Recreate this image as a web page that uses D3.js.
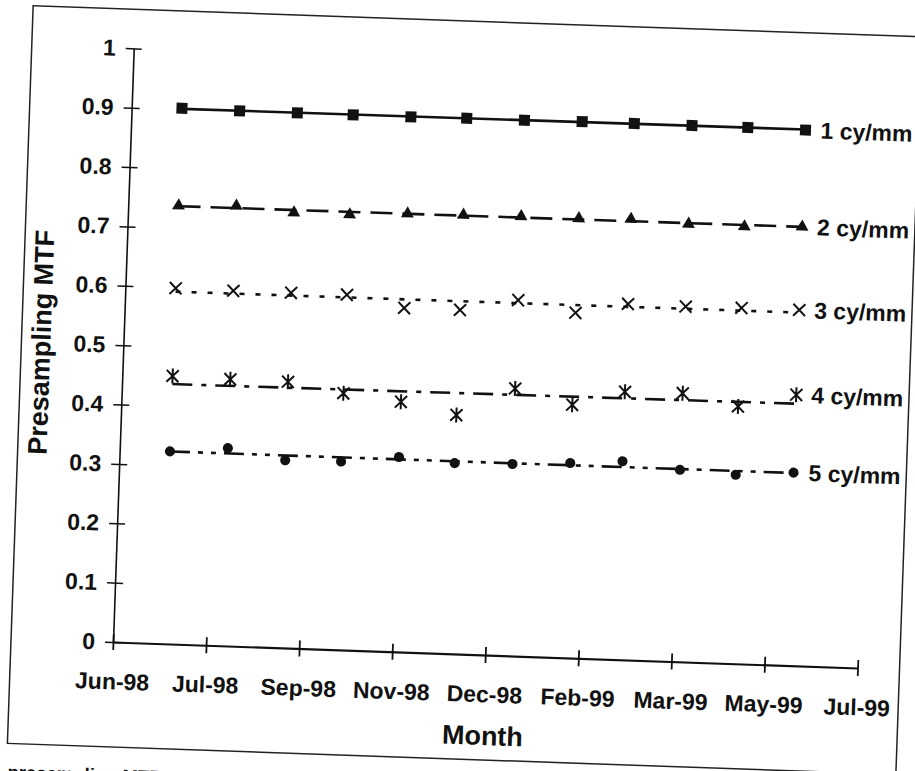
<!DOCTYPE html>
<html>
<head>
<meta charset="utf-8">
<script src="https://cdn.jsdelivr.net/npm/d3@7"></script>
<style>
  html, body { margin: 0; padding: 0; background: #fff; }
  svg { display: block; }
  .axis path, .axis line { stroke: #111; }
  .axis text, .series-label, .axis-title, .caption {
    font-family: "Liberation Sans", Arial, sans-serif;
    font-weight: bold;
    fill: #111;
  }
  .axis text { font-size: 23px; }
  .series-label { font-size: 23px; }
  .axis-title { font-size: 27px; }
  .caption { font-size: 18.5px; }
</style>
</head>
<body>
<svg id="chart" width="915" height="771"></svg>
<script>
// ---- data ----
const months = [
  "1998-07-01", "1998-08-01", "1998-09-01", "1998-10-01", "1998-11-01", "1998-12-01",
  "1999-01-01", "1999-02-01", "1999-03-01", "1999-04-01", "1999-05-01", "1999-06-01"
];
const mtf1 = [0.902, 0.901, 0.901, 0.901, 0.901, 0.902, 0.902, 0.903, 0.903, 0.903, 0.903, 0.902];
const mtf2 = [0.738, 0.741, 0.733, 0.733, 0.738, 0.739, 0.740, 0.740, 0.742, 0.737, 0.736, 0.739];
const mtf3 = [0.599, 0.598, 0.598, 0.598, 0.579, 0.579, 0.599, 0.581, 0.599, 0.598, 0.599, 0.599];
const mtf4 = [0.451, 0.449, 0.448, 0.432, 0.421, 0.402, 0.450, 0.426, 0.451, 0.452, 0.433, 0.456];
const mtf5 = [0.324, 0.333, 0.316, 0.317, 0.328, 0.321, 0.323, 0.328, 0.334, 0.323, 0.318, 0.325];
const seriesNames = ["1 cy/mm", "2 cy/mm", "3 cy/mm", "4 cy/mm", "5 cy/mm"];

const yTicks = [0, 0.1, 0.2, 0.3, 0.4, 0.5, 0.6, 0.7, 0.8, 0.9, 1];
const xTickDates = [
  "1998-06-04", "1998-07-24", "1998-09-12", "1998-11-01", "1998-12-21",
  "1999-02-09", "1999-03-31", "1999-05-20", "1999-07-09"
];

// ---- layout ----
const W = 745, H = 594;
const parse = d3.utcParse("%Y-%m-%d");
const dates = months.map(parse);

const svg = d3.select("#chart");
svg.append("rect").attr("width", 915).attr("height", 771).attr("fill", "#fff");

// the scanned page is tilted about 2 degrees
const g = svg.append("g").attr("transform", "rotate(2 113 642) translate(113 48)");

const x = d3.scaleUtc()
  .domain([parse(xTickDates[0]), parse(xTickDates[xTickDates.length - 1])])
  .range([0, W]);
const y = d3.scaleLinear().domain([0, 1]).range([H, 0]);

// outer frame
g.append("rect")
  .attr("x", -102).attr("y", -39)
  .attr("width", 889).attr("height", 738)
  .attr("fill", "none").attr("stroke", "#222").attr("stroke-width", 1.5);

// y axis
const yAxis = g.append("g").attr("class", "axis")
  .call(d3.axisLeft(y).tickValues(yTicks).tickFormat(d3.format("~g"))
    .tickSize(8).tickSizeOuter(0).tickPadding(10));
yAxis.select(".domain").attr("stroke-width", 1.6);
yAxis.selectAll(".tick line").attr("x1", 8).attr("stroke-width", 1.5);

// x axis
const xAxis = g.append("g").attr("class", "axis")
  .attr("transform", `translate(0,${H})`)
  .call(d3.axisBottom(x).tickValues(xTickDates.map(parse)).tickFormat(d3.utcFormat("%b-%y"))
    .tickSize(8).tickSizeOuter(0).tickPadding(23));
xAxis.select(".domain").attr("stroke-width", 2.2);
xAxis.selectAll(".tick line").attr("y1", -8).attr("stroke-width", 1.8);

// axis titles
g.append("text").attr("class", "axis-title")
  .attr("x", W / 2).attr("y", H + 90)
  .attr("text-anchor", "middle")
  .text("Month");

g.append("text").attr("class", "axis-title")
  .attr("transform", `translate(-73,${H / 2}) rotate(-90)`)
  .attr("text-anchor", "middle")
  .text("Presampling MTF");

// caption under the frame
g.append("text").attr("class", "caption")
  .attr("x", -101).attr("y", H + 140)
  .text("presampling MTF");

/* series: markers + linear trend line */
function linearFit(xs, ys) {
  const mx = d3.mean(xs), my = d3.mean(ys);
  let num = 0, den = 0;
  xs.forEach((v, i) => { num += (v - mx) * (ys[i] - my); den += (v - mx) * (v - mx); });
  const slope = num / den;
  return t => my + slope * (t - mx);
}

const xMark = "M-6,-6L6,6M6,-6L-6,6";
const starMark = "M-6,-6L6,6M6,-6L-6,6M0,-7.5L0,7.5";

const series = [
  { values: mtf1, dash: null, marker: d3.symbol(d3.symbolSquare, 121)(), filled: true },
  { values: mtf2, dash: "22,10", marker: d3.symbol(d3.symbolTriangle, 72)(), filled: true },
  { values: mtf3, dash: "5,11", marker: xMark, filled: false },
  { values: mtf4, dash: "20,9,5,9", marker: starMark, filled: false },
  { values: mtf5, dash: "20,8,5,8,5,8", marker: d3.symbol(d3.symbolCircle, 80)(), filled: true }
];

const times = dates.map(d => +d);

series.forEach((s, i) => {
  const fit = linearFit(times, s.values);
  const first = dates[0], last = dates[dates.length - 1];

  g.append("line")
    .attr("x1", x(first)).attr("y1", y(fit(+first)))
    .attr("x2", x(last)).attr("y2", y(fit(+last)))
    .attr("stroke", "#111")
    .attr("stroke-width", 2.6)
    .attr("stroke-dasharray", s.dash);

  g.append("g").selectAll("path")
    .data(s.values)
    .join("path")
    .attr("transform", (d, j) => `translate(${x(dates[j])},${y(d)})`)
    .attr("d", s.marker)
    .attr("fill", s.filled ? "#111" : "none")
    .attr("stroke", "#111")
    .attr("stroke-width", s.filled ? 0 : 2);

  g.append("text").attr("class", "series-label")
    .attr("x", x(last) + 15)
    .attr("y", y(s.values[s.values.length - 1]) + 8)
    .text(seriesNames[i]);
});
</script>
</body>
</html>
